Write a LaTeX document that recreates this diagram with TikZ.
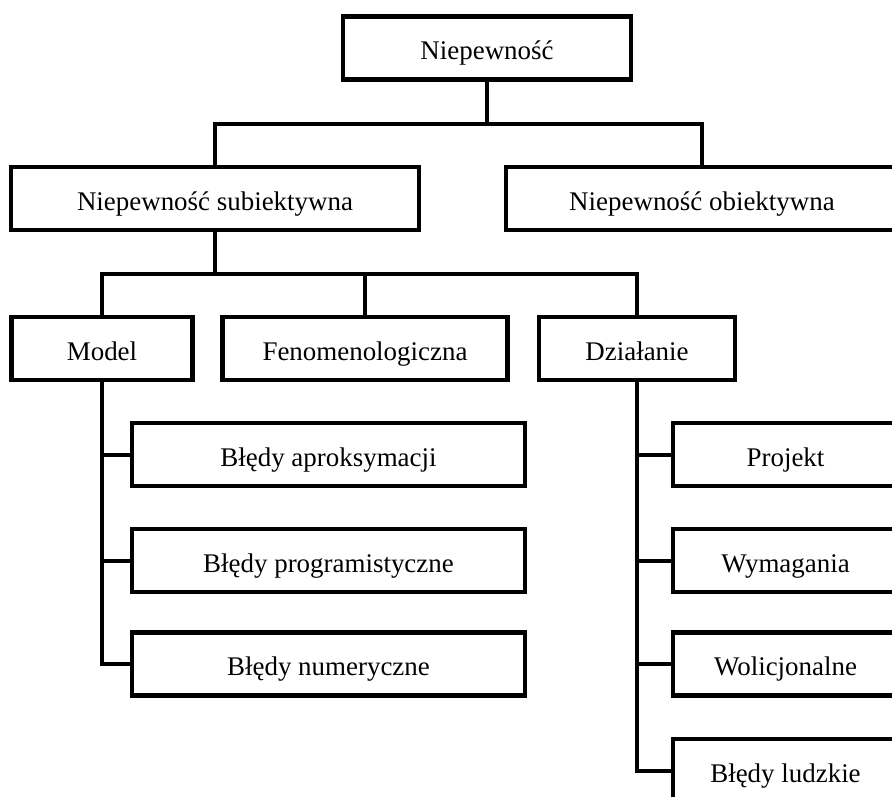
\documentclass[tikz,border=0pt]{standalone}
\usepackage{fontspec}
\setmainfont{Liberation Serif}
\begin{document}
\begin{tikzpicture}[
    x=0.75pt, y=-0.75pt,
    line width=3pt,
    every node/.style={font=\fontsize{20.2}{24}\selectfont,text=black},
    box/.style={draw=black, line width=3.4pt, fill=white, minimum height=47pt,
                inner sep=0pt, text height=17.5pt, text depth=0pt},
    link/.style={draw=black, line cap=rect}
  ]
  \useasboundingbox (0,0) rectangle (892,796);
  \clip (0,0) rectangle (892,796);

  %--------------------------------------
  % 1) Root and first level
  %--------------------------------------
  \node[box, minimum width=216pt] (root) at (487,48) {Niepewność};
  \node[box, minimum width=306pt] (subj) at (215,198.5) {Niepewność subiektywna};
  \node[box, minimum width=294pt] (obj)  at (702,198.5) {Niepewność obiektywna};

  \coordinate (J1) at (487,124);
  \draw[link] (root.south) -- (J1);
  \draw[link] (subj.north) |- (J1) -| (obj.north);

  %--------------------------------------
  % 2) Second level under the subjective branch
  %--------------------------------------
  \node[box, minimum width=136pt] (model) at (102,348.5) {Model};
  \node[box, minimum width=214pt] (fen)   at (365,348.5) {Fenomenologiczna};
  \node[box, minimum width=147pt] (dzial) at (637,348.5) {Działanie};

  \coordinate (J2) at (215,274);
  \draw[link] (subj.south) -- (J2);
  \draw[link] (model.north) |- (J2) -| (dzial.north);
  \draw[link] (fen.north) -- (fen.north |- J2);

  %--------------------------------------
  % 3) Leaves of Model
  %--------------------------------------
  \node[box, minimum width=295pt] (bapr) at (328.5,454.5) {Błędy aproksymacji};
  \node[box, minimum width=295pt] (bprg) at (328.5,560.5) {Błędy programistyczne};
  \node[box, minimum width=295pt] (bnum) at (328.5,664)   {Błędy numeryczne};

  \draw[link] (model.south) |- (bnum.west);
  \draw[link] (bapr.west) -- (bapr.west -| model.south);
  \draw[link] (bprg.west) -- (bprg.west -| model.south);

  %--------------------------------------
  % 4) Leaves of Działanie
  %--------------------------------------
  \node[box, minimum width=169pt] (proj) at (785.5,454.5) {Projekt};
  \node[box, minimum width=169pt] (wym)  at (785.5,560.5) {Wymagania};
  \node[box, minimum width=169pt] (wol)  at (785.5,664)   {Wolicjonalne};
  \node[box, minimum width=169pt] (blud) at (785.5,770.5) {Błędy ludzkie};

  \draw[link] (dzial.south) |- (blud.west);
  \draw[link] (proj.west) -- (proj.west -| dzial.south);
  \draw[link] (wym.west) -- (wym.west -| dzial.south);
  \draw[link] (wol.west) -- (wol.west -| dzial.south);

\end{tikzpicture}
\end{document}
